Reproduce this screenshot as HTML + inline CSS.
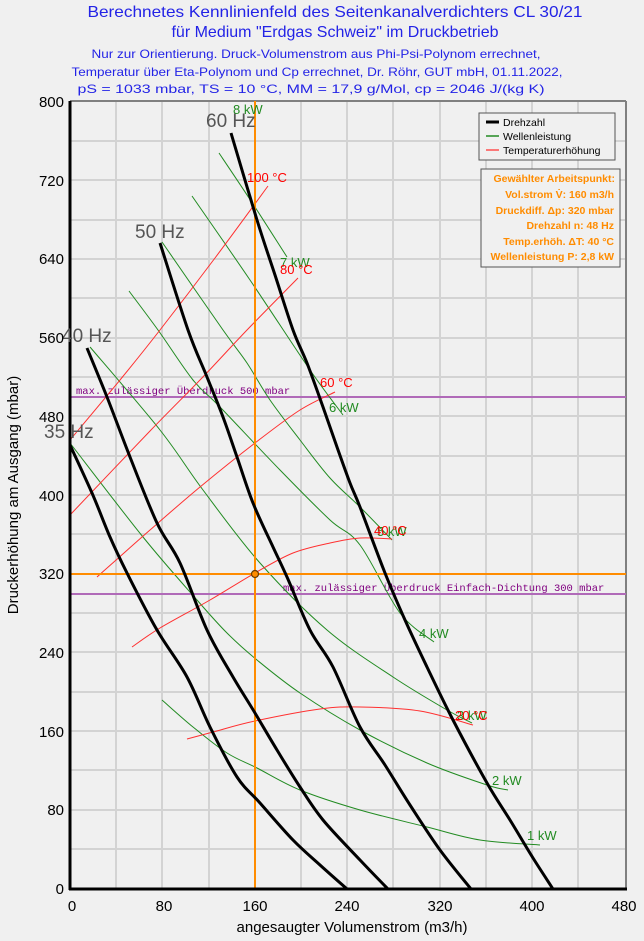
<!DOCTYPE html>
<html><head><meta charset="utf-8"><style>
html,body{margin:0;padding:0;background:#f0f0f0;}
svg{display:block;font-family:"Liberation Sans",Arial,sans-serif;}
</style></head><body>
<svg id="c" width="644" height="941" viewBox="0 0 644 941" xmlns="http://www.w3.org/2000/svg">
<rect width="644" height="941" fill="#f0f0f0"/>
<g fill="#2323e6" text-anchor="middle">
<text x="335" y="17" font-size="16" textLength="495" lengthAdjust="spacingAndGlyphs">Berechnetes Kennlinienfeld des Seitenkanalverdichters CL 30/21</text>
<text x="335" y="37" font-size="16">für Medium "Erdgas Schweiz" im Druckbetrieb</text>
<text x="316" y="58" font-size="12" textLength="449" lengthAdjust="spacingAndGlyphs">Nur zur Orientierung. Druck-Volumenstrom aus Phi-Psi-Polynom errechnet,</text>
<text x="317" y="76" font-size="12" textLength="491" lengthAdjust="spacingAndGlyphs">Temperatur über Eta-Polynom und Cp errechnet, Dr. Röhr, GUT mbH, 01.11.2022,</text>
<text x="311" y="93" font-size="12" textLength="467" lengthAdjust="spacingAndGlyphs">pS = 1033 mbar, TS = 10 °C, MM = 17,9 g/Mol, cp = 2046 J/(kg K)</text>
</g>
<g stroke="#d3d3d3" stroke-width="2">
<line x1="116" y1="101" x2="116" y2="889"/><line x1="162" y1="101" x2="162" y2="889"/><line x1="209" y1="101" x2="209" y2="889"/><line x1="255" y1="101" x2="255" y2="889"/><line x1="301" y1="101" x2="301" y2="889"/><line x1="347" y1="101" x2="347" y2="889"/><line x1="393" y1="101" x2="393" y2="889"/><line x1="440" y1="101" x2="440" y2="889"/><line x1="486" y1="101" x2="486" y2="889"/><line x1="532" y1="101" x2="532" y2="889"/><line x1="578" y1="101" x2="578" y2="889"/>
<line x1="70" y1="141" x2="626" y2="141"/><line x1="70" y1="180" x2="626" y2="180"/><line x1="70" y1="220" x2="626" y2="220"/><line x1="70" y1="259" x2="626" y2="259"/><line x1="70" y1="298" x2="626" y2="298"/><line x1="70" y1="338" x2="626" y2="338"/><line x1="70" y1="377" x2="626" y2="377"/><line x1="70" y1="416" x2="626" y2="416"/><line x1="70" y1="456" x2="626" y2="456"/><line x1="70" y1="495" x2="626" y2="495"/><line x1="70" y1="534" x2="626" y2="534"/><line x1="70" y1="574" x2="626" y2="574"/><line x1="70" y1="613" x2="626" y2="613"/><line x1="70" y1="652" x2="626" y2="652"/><line x1="70" y1="692" x2="626" y2="692"/><line x1="70" y1="731" x2="626" y2="731"/><line x1="70" y1="770" x2="626" y2="770"/><line x1="70" y1="810" x2="626" y2="810"/><line x1="70" y1="849" x2="626" y2="849"/>
</g>
<line x1="70" y1="101" x2="626" y2="101" stroke="#808080" stroke-width="2"/>
<line x1="626" y1="101" x2="626" y2="889" stroke="#808080" stroke-width="2"/>
<line x1="70" y1="397" x2="626" y2="397" stroke="#b06ab8" stroke-width="2"/>
<line x1="70" y1="594" x2="626" y2="594" stroke="#b06ab8" stroke-width="2"/>
<g fill="#800080" font-family="'Liberation Mono',monospace" font-size="10.5">
<text x="76" y="394">max. zulässiger Überdruck 500 mbar</text>
<text x="283" y="591">max. zulässiger Überdruck Einfach-Dichtung 300 mbar</text>
</g>
<g fill="none" stroke="#228b22" stroke-width="1">
<polyline class="s" points="219,153 253,204 287,257"/>
<polyline class="s" points="192,196 250,280 310,370 343,415"/>
<polyline class="s" points="162,242 223,330 247,363 270,400 300,440 330,478 360,507 392,540"/>
<polyline class="s" points="129,291 158,330 193,380 220,407 280,470 330,520 360,545 400,613 434,642"/>
<polyline class="s" points="90,347 160,430 203,490 260,563 327,630 393,677 447,710 472,723"/>
<polyline class="s" points="70,443 143,537 197,600 227,633 257,660 300,693 360,730 427,763 487,785 508,790"/>
<polyline class="s" points="162,700 193,727 227,753 257,768 300,790 360,810 427,827 480,840 540,845"/>
</g>
<g fill="none" stroke="#ff3030" stroke-width="1">
<polyline class="s" points="70,440 120,380 160,330 215,258 268,186"/>
<polyline class="s" points="70,515 150,431 200,380 247,330 298,278"/>
<polyline class="s" points="97,577 150,530 200,487 255,443 300,410 335,392"/>
<polyline class="s" points="132,647 160,628 210,600 255,573 293,553 330,543 360,538 392,539"/>
<polyline class="s" points="187,739 213,732 255,721 320,709 360,707 420,711 473,725"/>
</g>
<line x1="255" y1="101" x2="255" y2="889" stroke="#ff8c00" stroke-width="2"/>
<line x1="70" y1="574" x2="626" y2="574" stroke="#ff8c00" stroke-width="2"/>
<circle cx="255" cy="574" r="3.5" fill="#ff8c00" stroke="#6b3a00" stroke-width="1.2"/>
<g fill="none" stroke="#000" stroke-width="3" stroke-linejoin="round">
<polyline class="s" points="70,445 92,493 110,537 127,573 157,630 187,677 210,727 237,777 260,803 293,840 320,865 347,889"/>
<polyline class="s" points="87,348 107,397 130,457 157,523 180,563 207,630 233,677 255,713 277,750 300,787 323,820 360,860 388,889"/>
<polyline class="s" points="160,243 188,330 207,377 223,417 237,457 253,503 273,547 287,577 310,630 333,667 360,727 385,765 410,805 440,850 471,889"/>
<polyline class="s" points="231,133 257,220 275,275 293,330 307,363 323,407 337,447 350,483 360,507 385,573 405,620 427,667 453,720 487,783 510,820 533,858 553,889"/>
</g>
<line x1="70" y1="101" x2="70" y2="890" stroke="#000" stroke-width="3"/>
<line x1="69" y1="889" x2="627" y2="889" stroke="#000" stroke-width="3"/>
<g font-size="13">
<text x="233" y="114" fill="#228b22">8 kW</text>
<text x="280" y="267" fill="#228b22">7 kW</text>
<text x="329" y="412" fill="#228b22">6 kW</text>
<text x="377" y="536" fill="#228b22">5 kW</text>
<text x="419" y="638" fill="#228b22">4 kW</text>
<text x="457" y="720" fill="#228b22">3 kW</text>
<text x="492" y="785" fill="#228b22">2 kW</text>
<text x="527" y="840" fill="#228b22">1 kW</text>
<text x="247" y="182" fill="#ff0000">100 °C</text>
<text x="280" y="274" fill="#ff0000">80 °C</text>
<text x="320" y="387" fill="#ff0000">60 °C</text>
<text x="374" y="535" fill="#ff0000">40 °C</text>
<text x="455" y="720" fill="#ff0000">20 °C</text>
</g>
<g font-size="19" fill="#555">
<text x="206" y="127">60 Hz</text>
<text x="135" y="238">50 Hz</text>
<text x="62" y="342">40 Hz</text>
<text x="44" y="438">35 Hz</text>
</g>
<g font-size="15" fill="#000" text-anchor="end">
<text x="64" y="107">800</text><text x="64" y="186">720</text><text x="64" y="264">640</text><text x="64" y="343">560</text><text x="64" y="422">480</text><text x="64" y="501">400</text><text x="64" y="579">320</text><text x="64" y="658">240</text><text x="64" y="737">160</text><text x="64" y="815">80</text><text x="64" y="894">0</text>
</g>
<g font-size="15" fill="#000" text-anchor="middle">
<text x="72" y="911">0</text><text x="164" y="911">80</text><text x="255" y="911">160</text><text x="347" y="911">240</text><text x="440" y="911">320</text><text x="532" y="911">400</text><text x="624" y="911">480</text>
<text x="352" y="932">angesaugter Volumenstrom (m3/h)</text>
<text transform="translate(18,495) rotate(-90)">Druckerhöhung am Ausgang (mbar)</text>
</g>
<rect x="479" y="113" width="136" height="47" fill="#f0f0f0" stroke="#555" stroke-width="1"/>
<line x1="486" y1="122" x2="499" y2="122" stroke="#000" stroke-width="3"/>
<line x1="486" y1="136" x2="499" y2="136" stroke="#228b22" stroke-width="1.5"/>
<line x1="486" y1="150" x2="499" y2="150" stroke="#ff5050" stroke-width="1.5"/>
<g font-size="10.5" fill="#000">
<text x="503" y="126">Drehzahl</text>
<text x="503" y="140">Wellenleistung</text>
<text x="503" y="154">Temperaturerhöhung</text>
</g>
<rect x="481" y="169" width="139" height="98" fill="#f0f0f0" stroke="#555" stroke-width="1"/>
<g font-size="10.5" font-weight="bold" fill="#ff8c00" text-anchor="end">
<text x="615" y="182">Gewählter Arbeitspunkt:</text>
<text x="614" y="198">Vol.strom V̇: 160 m3/h</text>
<text x="614" y="214">Druckdiff. Δp: 320 mbar</text>
<text x="614" y="229">Drehzahl n: 48 Hz</text>
<text x="614" y="245">Temp.erhöh. ΔT: 40 °C</text>
<text x="614" y="260">Wellenleistung P: 2,8 kW</text>
</g>
</svg>
<script>
(function(){
var ns="http://www.w3.org/2000/svg";
document.querySelectorAll("polyline.s").forEach(function(pl){
 var p=pl.getAttribute("points").trim().split(/\s+/).map(function(s){var a=s.split(",");return[+a[0],+a[1]];});
 var d="M"+p[0][0]+","+p[0][1];
 for(var i=0;i<p.length-1;i++){
  var p0=p[i-1]||p[i],p1=p[i],p2=p[i+1],p3=p[i+2]||p2;
  var c1=[p1[0]+(p2[0]-p0[0])/6,p1[1]+(p2[1]-p0[1])/6];
  var c2=[p2[0]-(p3[0]-p1[0])/6,p2[1]-(p3[1]-p1[1])/6];
  d+=" C"+c1[0].toFixed(1)+","+c1[1].toFixed(1)+" "+c2[0].toFixed(1)+","+c2[1].toFixed(1)+" "+p2[0]+","+p2[1];
 }
 var path=document.createElementNS(ns,"path");
 path.setAttribute("d",d);
 pl.parentNode.replaceChild(path,pl);
});
})();
</script>
</body></html>
